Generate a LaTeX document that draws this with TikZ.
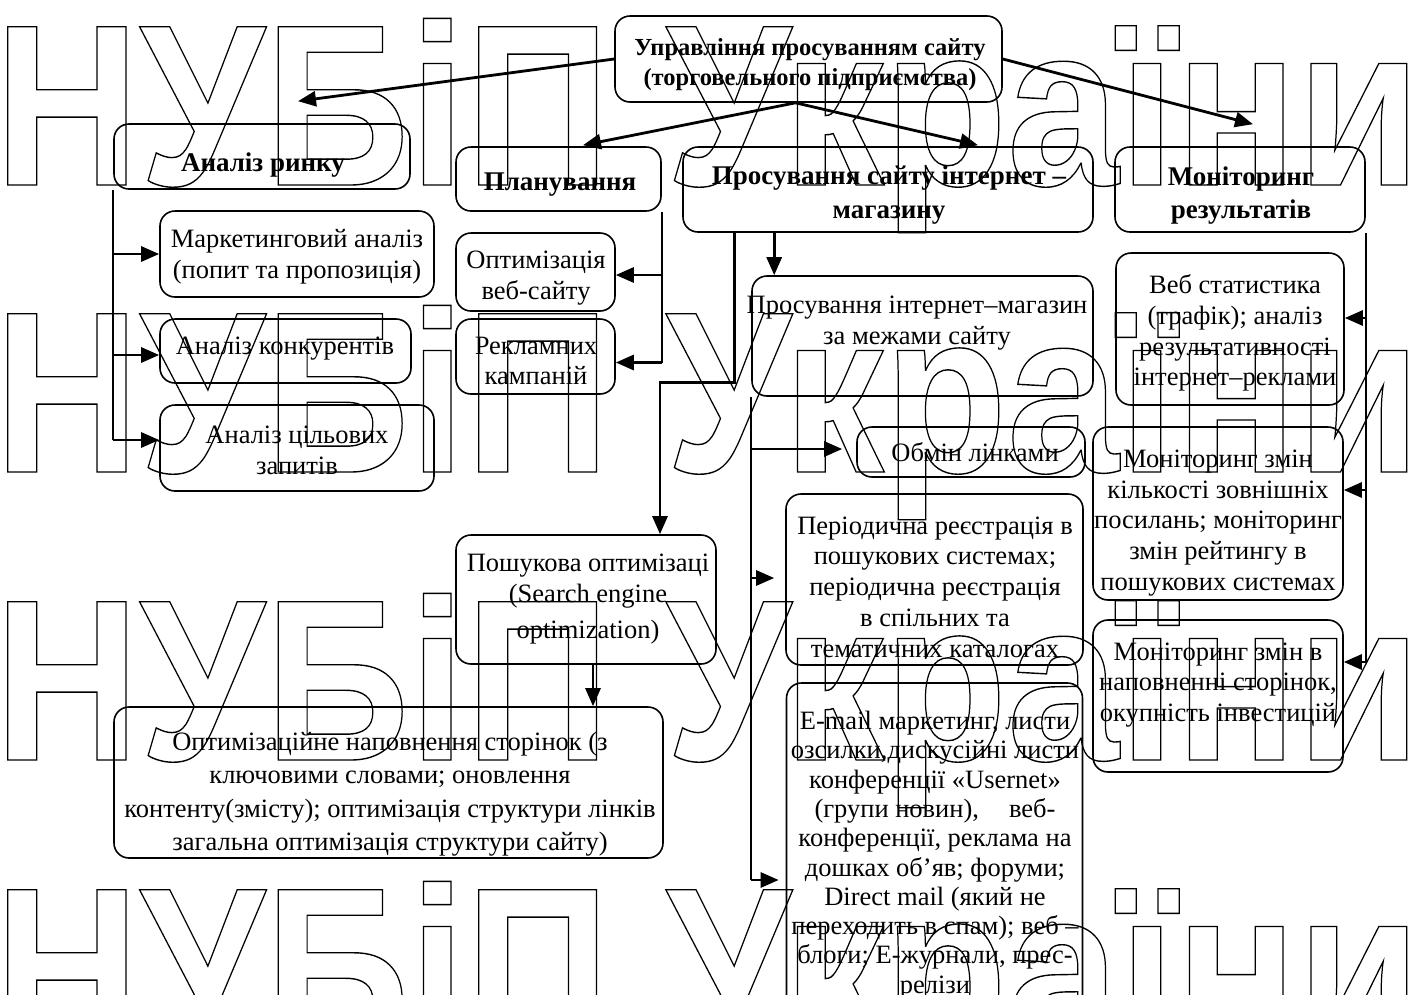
\documentclass[tikz,border=0pt]{standalone}
\usepackage{fontspec}
\usepackage{graphicx}
\setmainfont{Liberation Serif}
\newfontfamily\wmfont{Liberation Sans}
\usetikzlibrary{arrows.meta,calc}
\newcommand{\wmtext}{\scalebox{0.875}[1]{\special{pdf:literal direct 1 Tr 1.4 w}НУБіП України\special{pdf:literal direct 0 Tr}}}
\begin{document}
\begin{tikzpicture}[x=1pt,y=-1pt,
  box/.style={draw, rounded corners=15pt, line width=1.6pt, inner sep=0pt},
  txt/.style={align=center, inner sep=0pt, font=\fontsize{26.5}{30.75}\selectfont},
  hdr/.style={align=center, inner sep=0pt, font=\fontsize{27}{31}\selectfont\bfseries},
  bus/.style={line width=1.6pt},
  arr/.style={line width=2.8pt, -{Triangle[length=18pt,width=15pt]}},
  wm/.style={anchor=base west, inner sep=0pt, font=\fontsize{230}{230}\selectfont\wmfont\bfseries}
]
\useasboundingbox (0,0) rectangle (1410,994);

% watermark
\begin{scope}
\node[wm] (wm1) at (-6,185) {\wmtext};
\node[wm] (wm2) at (-6,472) {\wmtext};
\node[wm] (wm3) at (-6,760) {\wmtext};
\node[wm] (wm4) at (-6,1048) {\wmtext};
\end{scope}

% boxes
\node[box,minimum width=387pt,minimum height=86pt] (top) at (808.5,59) {};
\node[hdr,font=\fontsize{24.5}{30}\selectfont\bfseries] (top-t) at (810,65) {Управління просуванням сайту\\(торговельного підприємства)};

\node[box,minimum width=296pt,minimum height=65pt] (rynok) at (262,156.5) {};
\node[hdr] (rynok-t) at (263,165) {Аналіз ринку};

\node[box,minimum width=205pt,minimum height=64pt] (plan) at (558.5,179) {};
\node[hdr] (plan-t) at (560,185) {Планування};

\node[box,minimum width=410pt,minimum height=85pt] (prosuv) at (888,189.5) {};
\node[hdr] (prosuv-t) at (889,195) {Просування сайту інтернет –\\[3pt]магазину};

\node[box,minimum width=250pt,minimum height=85pt] (monit) at (1240,189.5) {};
\node[hdr] (monit-t) at (1241,196) {Моніторинг\\[2pt]результатів};

\node[box,minimum width=274pt,minimum height=86pt] (market) at (297,254) {};
\node[txt] (market-t) at (297,257) {Маркетинговий аналіз\\(попит та пропозиція)};

\node[box,minimum width=251pt,minimum height=64pt] (konk) at (285.5,351) {};
\node[txt] (konk-t) at (285,349) {Аналіз конкурентів};

\node[box,minimum width=274pt,minimum height=86pt] (cil) at (297,448) {};
\node[txt] (cil-t) at (297,450) {Аналіз цільових\\запитів};

\node[box,minimum width=159pt,minimum height=78pt] (optim) at (535.5,272) {};
\node[txt] (optim-t) at (536,278) {Оптимізація\\веб-сайту};

\node[box,minimum width=159pt,minimum height=75pt] (reklam) at (535.5,356.5) {};
\node[txt] (reklam-t) at (536,361) {Рекламних\\кампаній};

\node[box,minimum width=341pt,minimum height=120pt] (inet) at (922.5,336) {};
\node[txt] (inet-t) at (917,323) {Просування інтернет–магазин\\за межами сайту};

\node[box,minimum width=228pt,minimum height=50pt] (obmin) at (971,452) {};
\node[txt] (obmin-t) at (975,452) {Обмін лінками};

\node[box,minimum width=297pt,minimum height=171pt] (period) at (934.5,579.5) {};
\node[txt] (period-t) at (935,587) {Періодична реєстрація в\\пошукових системах;\\періодична реєстрація\\в спільних та\\тематичних каталогах};

\node[box,minimum width=296pt,minimum height=340pt] (email) at (934.5,853) {};
\node[txt,font=\fontsize{26.5}{29.3}\selectfont] (email-t) at (935,855) {E-mail маркетинг, листи\\озсилки,дискусійні листи\\конференції «Usernet»\\(групи новин),\hspace{30pt}веб-\\конференції, реклама на\\дошках об’яв; форуми;\\Direct mail (який не\\переходить в спам); веб –\\блоги; E-журнали, прес-\\релізи};

\node[box,minimum width=228pt,minimum height=152pt] (veb) at (1230,329) {};
\node[txt] (veb-t) at (1235,333) {Веб статистика\\(трафік); аналіз\\результативності\\інтернет–реклами};

\node[box,minimum width=250pt,minimum height=173pt] (monzmin) at (1218,513.5) {};
\node[txt] (monzmin-t) at (1218,523) {Моніторинг змін\\кількості зовнішніх\\посилань; моніторинг\\змін рейтингу в\\пошукових системах};

\node[box,minimum width=250pt,minimum height=152pt] (monzminv) at (1218,696) {};
\node[txt] (monzminv-t) at (1218,685) {Моніторинг змін в\\наповненні сторінок,\\окупність інвестицій};

\node[box,minimum width=260pt,minimum height=129pt] (posh) at (586,599.5) {};
\node[txt] (posh-t) at (588,599) {Пошукова оптимізаці\\(Search engine\\[5pt]optimization)};

\node[box,minimum width=549pt,minimum height=151pt] (optnap) at (388.5,782.5) {};
\node[txt,font=\fontsize{26.5}{33.5}\selectfont] (optnap-t) at (390,794) {Оптимізаційне наповнення сторінок (з\\ключовими словами; оновлення\\контенту(змісту); оптимізація структури лінків\\загальна оптимізація структури сайту)};

% connectors from top
\draw[arr] (top.west) -- ([xshift=36pt,yshift=22pt]rynok.north);
\coordinate (ts) at ([xshift=-13pt]top.south);
\draw[arr] (ts) -- ([xshift=24.5pt,yshift=1pt]plan.north);
\draw[arr] (ts) -- ([xshift=90pt,yshift=1pt]prosuv.north);
\draw[arr] (top.east) -- ([xshift=13pt,yshift=22pt]monit.north);

% market analysis bus
\coordinate (cilA) at ([yshift=8pt]cil.west);
\coordinate (konkA) at ([yshift=-4pt]konk.west);
\draw[bus] (rynok.south west) -- (rynok.south west |- cilA);
\draw[arr] (rynok.south west |- market.west) -- (market.west);
\draw[arr] (rynok.south west |- konkA) -- (konkA);
\draw[arr] (rynok.south west |- cilA) -- (cilA);

% planning bus
\coordinate (optA) at ([yshift=-3pt]optim.east);
\coordinate (rekA) at ([yshift=-6pt]reklam.east);
\draw[bus] (plan.south east) -- (plan.south east |- rekA);
\draw[arr] (plan.south east |- optA) -- (optA);
\draw[arr] (plan.south east |- rekA) -- (rekA);

% promotion
\coordinate (poshA) at ([xshift=74pt]posh.north);
\coordinate (pr1) at ([xshift=52pt]prosuv.south west);
\coordinate (bend) at ([yshift=152pt]poshA);
\draw[arr] (pr1) |- (bend) -- (poshA);
\draw[arr] ([xshift=92pt]prosuv.south west) -- ([xshift=23pt]inet.north west);

% outside-site bus
\coordinate (obA) at ([xshift=-14pt,yshift=3pt]obmin.west);
\coordinate (perA) at ([xshift=-11pt,yshift=1.5pt]period.west);
\coordinate (emA) at ([xshift=-7pt,yshift=-27pt]email.west);
\draw[bus] (inet.south west) -- (inet.south west |- emA);
\draw[arr] (inet.south west |- obA) -- (obA);
\draw[arr] (inet.south west |- perA) -- (perA);
\draw[arr] (inet.south west |- emA) -- (emA);

% monitoring bus
\coordinate (vebA) at ([yshift=11pt]veb.east);
\coordinate (mzA) at ([yshift=23.5pt]monzmin.east);
\coordinate (mzvA) at ([yshift=34pt]monzminv.east);
\draw[bus] (monit.south east) -- (monit.south east |- mzvA);
\draw[arr] (monit.south east |- vebA) -- (vebA);
\draw[arr] (monit.south east |- mzA) -- (mzA);
\draw[arr] (monit.south east |- mzvA) -- (mzvA);

% search optimisation
\coordinate (ps) at ([xshift=7pt]posh.south);
\draw[arr] (ps) -- (ps |- optnap.north);
\end{tikzpicture}
\end{document}
